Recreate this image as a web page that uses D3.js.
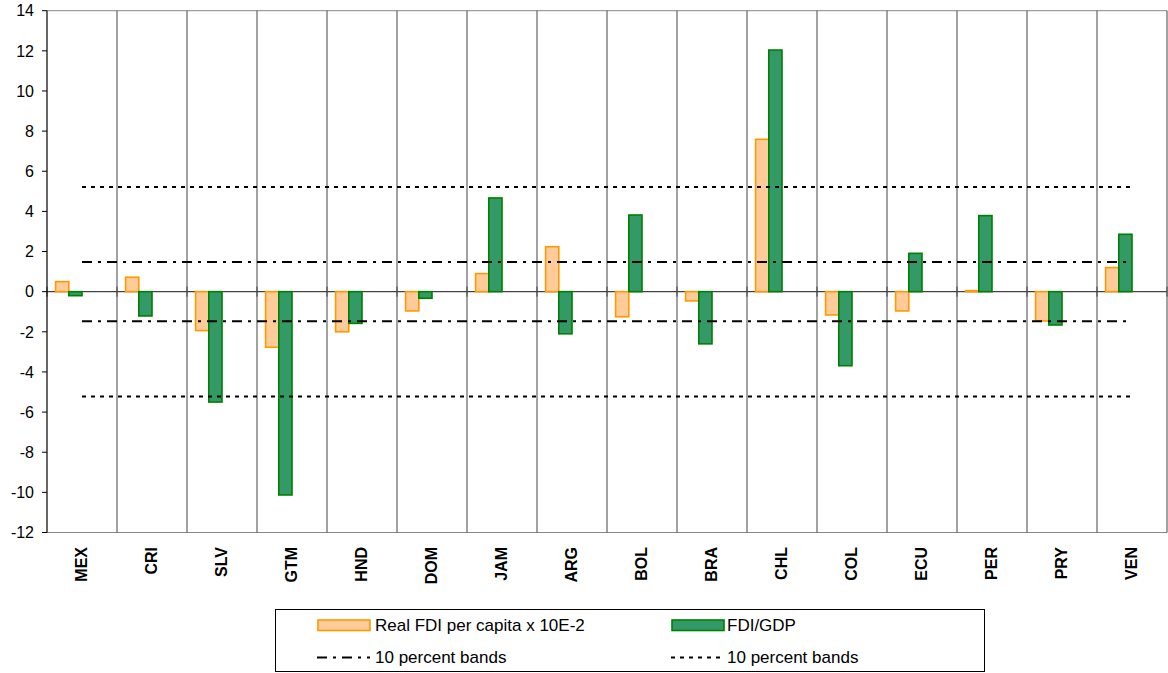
<!DOCTYPE html>
<html>
<head>
<meta charset="utf-8">
<title>FDI bands</title>
<script src="https://cdnjs.cloudflare.com/ajax/libs/d3/7.8.5/d3.min.js"></script>
<style>
  body { margin:0; background:#fff; }
  svg { display:block; font-family:"Liberation Sans", Arial, sans-serif; }
  .ytick text { font-size:16px; fill:#000; }
  .cat { font-size:16px; font-weight:bold; fill:#000; }
  .leg { font-size:17px; fill:#000; }
</style>
</head>
<body>
<div id="chart"></div>
<script>
// data
var countries = ["MEX","CRI","SLV","GTM","HND","DOM","JAM","ARG","BOL","BRA","CHL","COL","ECU","PER","PRY","VEN"];
var realFdiPerCapita = [0.5, 0.72, -1.94, -2.77, -2.0, -0.96, 0.9, 2.24, -1.25, -0.46, 7.59, -1.16, -0.96, 0.05, -1.46, 1.2];
var fdiGdp = [-0.2, -1.21, -5.5, -10.13, -1.58, -0.33, 4.67, -2.1, 3.82, -2.6, 12.04, -3.69, 1.91, 3.79, -1.66, 2.86];
var bandDashDot = [1.48, -1.48];   // 10 percent bands (dash-dot)
var bandDotted = [5.22, -5.22];    // 10 percent bands (dotted)
var yTicks = [-12,-10,-8,-6,-4,-2,0,2,4,6,8,10,12,14];

var W = 1168, H = 673;
var plotL = 47, plotR = 1167, plotT = 10.7, plotB = 532.5;

var svg = d3.select("#chart").append("svg")
  .attr("width", W).attr("height", H);

var x = d3.scaleBand().domain(countries).range([plotL, plotR]).padding(0);
var y = d3.scaleLinear().domain([-12, 14]).range([plotB, plotT]);
var bw = x.bandwidth();
var barW = 13.2;

// frame lines: top, bottom and the category separators
svg.append("line").attr("x1", plotL).attr("x2", plotR).attr("y1", y(14)).attr("y2", y(14))
  .attr("stroke", "#888").attr("stroke-width", 1);
svg.append("line").attr("x1", plotL).attr("x2", plotR).attr("y1", y(-12)).attr("y2", y(-12))
  .attr("stroke", "#888").attr("stroke-width", 1);
var seps = countries.map(function(c){ return x(c) + bw; });
svg.selectAll(".sep").data(seps).enter().append("line")
  .attr("class", "sep")
  .attr("x1", function(d){ return d; }).attr("x2", function(d){ return d; })
  .attr("y1", y(14)).attr("y2", y(-12))
  .attr("stroke", "#444").attr("stroke-width", 1);

// zero line with small ticks
svg.append("line").attr("x1", plotL).attr("x2", plotR).attr("y1", y(0)).attr("y2", y(0))
  .attr("stroke", "#444").attr("stroke-width", 1.2);
svg.selectAll(".xt").data([plotL].concat(seps)).enter().append("line")
  .attr("x1", function(d){ return d; }).attr("x2", function(d){ return d; })
  .attr("y1", y(0) - 5).attr("y2", y(0) + 5)
  .attr("stroke", "#444").attr("stroke-width", 1);

// bars
svg.selectAll(".bar1").data(realFdiPerCapita).enter().append("rect")
  .attr("x", function(d, i){ return x(countries[i]) + bw/2 - 2*barW; })
  .attr("y", function(d){ return y(Math.max(0, d)); })
  .attr("width", barW)
  .attr("height", function(d){ return Math.abs(y(d) - y(0)); })
  .attr("fill", "#FFCC99").attr("stroke", "#FF9900").attr("stroke-width", 1.6);

svg.selectAll(".bar2").data(fdiGdp).enter().append("rect")
  .attr("x", function(d, i){ return x(countries[i]) + bw/2 - barW; })
  .attr("y", function(d){ return y(Math.max(0, d)); })
  .attr("width", barW)
  .attr("height", function(d){ return Math.abs(y(d) - y(0)); })
  .attr("fill", "#339966").attr("stroke", "#008000").attr("stroke-width", 1.6);

// band lines across category centres
function bandLine(v, dash) {
  svg.append("path")
    .attr("d", d3.line().x(function(c){ return x(c) + bw/2; }).y(function(){ return y(v); })(countries))
    .attr("fill", "none").attr("stroke", "#000").attr("stroke-width", 2)
    .attr("stroke-dasharray", dash);
}
bandDotted.forEach(function(v){ bandLine(v, "4,5"); });
bandDashDot.forEach(function(v){ bandLine(v, "10,6,3,6"); });

// y axis
svg.append("line").attr("x1", plotL).attr("x2", plotL).attr("y1", y(14)).attr("y2", y(-12))
  .attr("stroke", "#000").attr("stroke-width", 1.2);
var yt = svg.selectAll(".ytick").data(yTicks).enter().append("g").attr("class", "ytick")
  .attr("transform", function(d){ return "translate(0," + y(d) + ")"; });
yt.append("line").attr("x1", plotL - 5).attr("x2", plotL).attr("stroke", "#000");
yt.append("text").attr("x", 34).attr("dy", "0.36em").attr("text-anchor", "end")
  .text(function(d){ return d; });

// category labels
svg.selectAll(".cat").data(countries).enter().append("text")
  .attr("class", "cat")
  .attr("transform", function(d){ return "translate(" + (x(d) + bw/2 - 1) + ",547) rotate(-90)"; })
  .attr("dy", "0.36em")
  .attr("text-anchor", "end")
  .text(function(d){ return d; });

// legend
var lg = svg.append("g");
lg.append("rect").attr("x", 275.5).attr("y", 609.5).attr("width", 709).attr("height", 62)
  .attr("fill", "#fff").attr("stroke", "#000").attr("stroke-width", 1);
lg.append("rect").attr("x", 318).attr("y", 620).attr("width", 52).attr("height", 10.5)
  .attr("fill", "#FFCC99").attr("stroke", "#FF9900").attr("stroke-width", 1.6);
lg.append("text").attr("class", "leg").attr("x", 375).attr("y", 631).text("Real FDI per capita x 10E-2");
lg.append("rect").attr("x", 672).attr("y", 620).attr("width", 52).attr("height", 10.5)
  .attr("fill", "#339966").attr("stroke", "#008000").attr("stroke-width", 1.6);
lg.append("text").attr("class", "leg").attr("x", 727).attr("y", 631).text("FDI/GDP");
lg.append("line").attr("x1", 317).attr("x2", 370).attr("y1", 657.5).attr("y2", 657.5)
  .attr("stroke", "#000").attr("stroke-width", 2).attr("stroke-dasharray", "10,6,3,6");
lg.append("text").attr("class", "leg").attr("x", 375).attr("y", 663).text("10 percent bands");
lg.append("line").attr("x1", 671).attr("x2", 724).attr("y1", 657.5).attr("y2", 657.5)
  .attr("stroke", "#000").attr("stroke-width", 2).attr("stroke-dasharray", "4,5");
lg.append("text").attr("class", "leg").attr("x", 727).attr("y", 663).text("10 percent bands");
</script>
</body>
</html>
